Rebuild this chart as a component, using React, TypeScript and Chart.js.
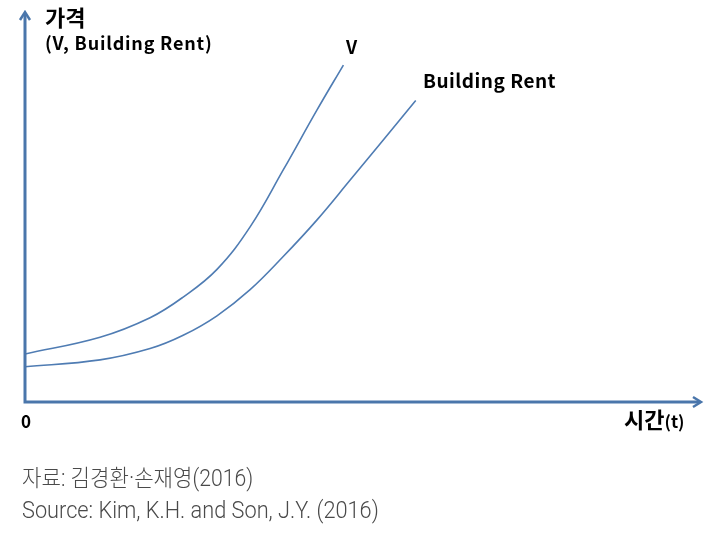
import React, { useEffect, useRef } from 'react';
import { Chart, ChartConfiguration, Plugin } from 'chart.js/auto';

// Time (t) positions and price levels (arbitrary units 0..100)
const vTime = [0, 11.1, 18.5, 23.4, 28.4, 33.3, 38.2, 43.2, 47.1];
const vPrice = [12.3, 16.6, 21.6, 26.9, 34.0, 44.9, 59.5, 74.9, 86.4];

const rentTime = [-0.3, 11.1, 18.5, 23.4, 28.4, 33.3, 38.2, 43.2, 48.1, 53.0, 57.8];
const rentPrice = [9.0, 10.8, 13.7, 17.1, 22.1, 28.8, 37.3, 46.7, 56.9, 67.2, 77.3];

const seriesNames = ['V', 'Building Rent'];

const lineColor = '#4f7cb3';
const axisColor = '#4a76ab';

// draws the two arrowed axes through the origin of the scales
const axesPlugin: Plugin = {
  id: 'arrowAxes',
  afterDatasetsDraw(chart) {
    const { ctx, scales } = chart;
    const x0 = scales.x.getPixelForValue(0);
    const y0 = scales.y.getPixelForValue(0);
    const xEnd = scales.x.getPixelForValue(scales.x.max);
    const yEnd = scales.y.getPixelForValue(scales.y.max);
    ctx.save();
    ctx.strokeStyle = axisColor;
    ctx.lineWidth = 3;
    ctx.lineCap = 'butt';
    ctx.beginPath();
    ctx.moveTo(x0, y0 + 1.5);
    ctx.lineTo(x0, yEnd + 2);
    ctx.moveTo(x0 - 1.5, y0);
    ctx.lineTo(xEnd - 2, y0);
    ctx.stroke();
    // arrow heads
    ctx.lineWidth = 2.5;
    ctx.lineJoin = 'miter';
    ctx.beginPath();
    ctx.moveTo(x0 - 5, yEnd + 8);
    ctx.lineTo(x0, yEnd);
    ctx.lineTo(x0 + 5, yEnd + 8);
    ctx.moveTo(xEnd - 8, y0 - 5);
    ctx.lineTo(xEnd, y0);
    ctx.lineTo(xEnd - 8, y0 + 5);
    ctx.stroke();
    ctx.restore();
  },
};

const boldFont = '"Noto Sans CJK KR", "Noto Sans", sans-serif';
const thinFont = 'Roboto, "Noto Sans CJK KR", sans-serif';

const App: React.FC = () => {
  const canvasRef = useRef<HTMLCanvasElement | null>(null);

  useEffect(() => {
    document.body.style.margin = '0';
    if (!canvasRef.current) return;

    const config: ChartConfiguration = {
      type: 'line',
      data: {
        datasets: [
          {
            label: seriesNames[0],
            data: vTime.map((t, i) => ({ x: t, y: vPrice[i] })),
            borderColor: lineColor,
            borderWidth: 1.6,
            pointRadius: 0,
            tension: 0.4,
            fill: false,
          },
          {
            label: seriesNames[1],
            data: rentTime.map((t, i) => ({ x: t, y: rentPrice[i] })),
            borderColor: lineColor,
            borderWidth: 1.6,
            pointRadius: 0,
            tension: 0.4,
            fill: false,
          },
        ],
      },
      options: {
        responsive: false,
        animation: false,
        layout: { padding: { left: 25, right: 8, top: 12, bottom: 147 } },
        scales: {
          x: { type: 'linear', min: 0, max: 100, display: false },
          y: { type: 'linear', min: 0, max: 100, display: false },
        },
        plugins: {
          legend: { display: false },
          tooltip: { enabled: false },
        },
      },
      plugins: [axesPlugin],
    };

    const chart = new Chart(canvasRef.current, config);
    return () => chart.destroy();
  }, []);

  const label = (style: React.CSSProperties): React.CSSProperties => ({
    position: 'absolute',
    whiteSpace: 'nowrap',
    lineHeight: 1,
    color: '#000',
    ...style,
  });

  return (
    <div style={{ position: 'absolute', left: 0, top: 0, width: 709, height: 549, background: '#fff' }}>
      <canvas ref={canvasRef} width={709} height={549} style={{ position: 'absolute', left: 0, top: 0 }} />
      <div style={label({ left: 45, top: 5, fontFamily: boldFont, fontWeight: 700, fontSize: 22 })}>가격</div>
      <div style={label({ left: 45, top: 33, fontFamily: boldFont, fontWeight: 700, fontSize: 18, letterSpacing: 0.8 })}>
        (V, Building Rent)
      </div>
      <div style={label({ left: 346, top: 37, fontFamily: boldFont, fontWeight: 700, fontSize: 18 })}>{seriesNames[0]}</div>
      <div style={label({ left: 423, top: 70, fontFamily: boldFont, fontWeight: 700, fontSize: 19, letterSpacing: 0.5 })}>
        {seriesNames[1]}
      </div>
      <div style={label({ left: 21, top: 412, fontFamily: boldFont, fontWeight: 700, fontSize: 17 })}>0</div>
      <div style={label({ left: 624, top: 407, fontFamily: boldFont, fontWeight: 700, fontSize: 22 })}>
        시간<span style={{ fontSize: 17 }}>(t)</span>
      </div>
      <div
        style={label({
          left: 22, top: 467, fontFamily: thinFont, fontWeight: 300, fontSize: 23, color: '#4a4a4a',
          transform: 'scaleX(0.92)', transformOrigin: 'left top',
        })}
      >
        자료: 김경환·손재영(2016)
      </div>
      <div
        style={label({
          left: 22, top: 499, fontFamily: thinFont, fontWeight: 300, fontSize: 23, color: '#4a4a4a',
          transform: 'scaleX(0.945)', transformOrigin: 'left top',
        })}
      >
        Source: Kim, K.H. and Son, J.Y. (2016)
      </div>
    </div>
  );
};

export default App;
